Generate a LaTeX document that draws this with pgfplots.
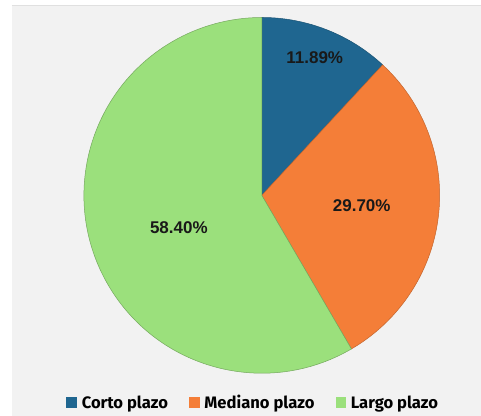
\documentclass[border=0pt]{standalone}
\usepackage{pgfplots}
\pgfplotsset{compat=1.18}
\usepackage{pgfplotstable}
\usepackage{fontspec}
\setmainfont{Liberation Sans}
\newfontfamily\legfont{Fira Sans}
\definecolor{cblue}{HTML}{1F6690}
\definecolor{corange}{HTML}{F47E38}
\definecolor{cgreen}{HTML}{9BE07C}
\definecolor{bg}{HTML}{F2F2F2}
\pgfplotstableread{
label value
Corto 11.89
Mediano 29.70
Largo 58.40
}\piedata
\pgfplotstablegetelem{0}{value}\of\piedata \let\vA\pgfplotsretval
\pgfplotstablegetelem{1}{value}\of\piedata \let\vB\pgfplotsretval
\pgfplotstablegetelem{2}{value}\of\piedata \let\vC\pgfplotsretval
\pgfmathsetmacro\aA{90}
\pgfmathsetmacro\aB{90-3.6*\vA}
\pgfmathsetmacro\aC{\aB-3.6*\vB}
\pgfmathsetmacro\aD{90-360}
\begin{document}
\begin{tikzpicture}
\begin{axis}[
  width=481bp, height=416bp, scale only axis,
  xmin=0, xmax=481, ymin=0, ymax=416,
  axis lines=none, xtick=\empty, ytick=\empty,
  clip=false,
  legend columns=3,
  legend style={at={(axis cs:253.5,13)}, anchor=center, draw=none, fill=none,
    font=\legfont\bfseries\fontsize{16.6bp}{18bp}\selectfont,
    column sep=0pt,
    /tikz/every odd column/.append style={column sep=3bp},
    /tikz/every even column/.append style={column sep=19bp},
    nodes={inner sep=2bp}},
]
\fill[white] (axis cs:0,0) rectangle (axis cs:481,416);
\fill[bg] (axis cs:12,0) rectangle (axis cs:481,411);
\draw[black!12, line width=0.8pt] (axis cs:12,411) -- (axis cs:481,411);
\def\cx{262}\def\cy{220.5}\def\R{178bp}
\fill[cblue, draw=cblue!80!black, line width=0.5pt] (axis cs:\cx,\cy) -- ([shift={(\aA:\R)}]axis cs:\cx,\cy) arc[start angle=\aA, end angle=\aB, radius=\R] -- cycle;
\fill[corange, draw=corange!80!black, line width=0.5pt] (axis cs:\cx,\cy) -- ([shift={(\aB:\R)}]axis cs:\cx,\cy) arc[start angle=\aB, end angle=\aC, radius=\R] -- cycle;
\fill[cgreen, draw=cgreen!75!black, line width=0.5pt] (axis cs:\cx,\cy) -- ([shift={(\aC:\R)}]axis cs:\cx,\cy) arc[start angle=\aC, end angle=\aD, radius=\R] -- cycle;
\node[font=\bfseries\fontsize{17bp}{19bp}\selectfont, text=black!90] at (axis cs:315,358) {11.89\%};
\node[font=\bfseries\fontsize{17bp}{19bp}\selectfont, text=black!90] at (axis cs:362,210) {29.70\%};
\node[font=\bfseries\fontsize{17bp}{19bp}\selectfont, text=black!90] at (axis cs:179,188) {58.40\%};
\addlegendimage{legend image code/.code={\fill[cblue] (0bp,-5bp) rectangle (10bp,5bp);}}
\addlegendentry{Corto plazo}
\addlegendimage{legend image code/.code={\fill[corange] (0bp,-5bp) rectangle (10bp,5bp);}}
\addlegendentry{Mediano plazo}
\addlegendimage{legend image code/.code={\fill[cgreen] (0bp,-5bp) rectangle (10bp,5bp);}}
\addlegendentry{Largo plazo}
\end{axis}
\end{tikzpicture}
\end{document}
